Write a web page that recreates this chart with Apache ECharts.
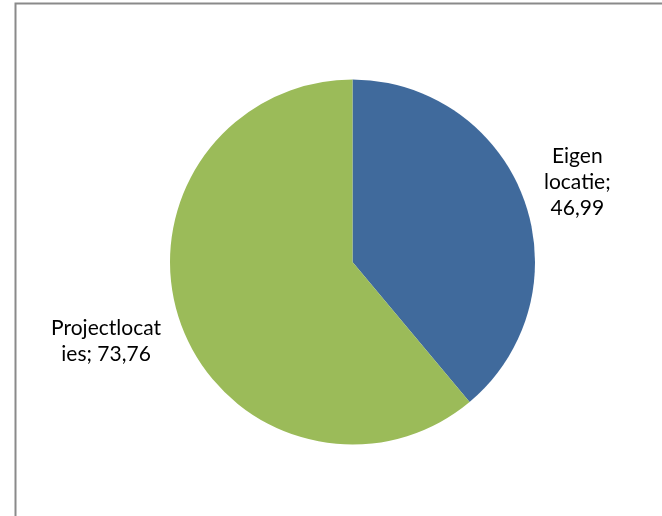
<!DOCTYPE html>
<html>
<head>
<meta charset="utf-8">
<script src="https://cdn.jsdelivr.net/npm/echarts@6/dist/echarts.min.js"></script>
<style>
html,body{margin:0;padding:0;background:#fff;}
#chart{width:662px;height:516px;}
</style>
</head>
<body>
<div id="chart"></div>
<script>
const categories = ['Eigen locatie', 'Projectlocaties'];
const values = [46.99, 73.76];
const labelTexts = ['Eigen\nlocatie;\n46,99', 'Projectlocat\nies; 73,76'];
const colors = ['#406A9C', '#9BBB59'];

const chart = echarts.init(document.getElementById('chart'), null, {renderer: 'canvas'});
chart.setOption({
  animation: false,
  backgroundColor: '#ffffff',
  graphic: [{
    type: 'rect',
    shape: {x: 15.5, y: 3.5, width: 700, height: 600},
    style: {fill: 'none', stroke: '#8a8a8a', lineWidth: 2},
    silent: true
  }],
  series: [{
    type: 'pie',
    center: [352.5, 262],
    radius: 182.5,
    startAngle: 90,
    clockwise: true,
    data: categories.map((c, i) => ({
      name: c, value: values[i],
      itemStyle: {color: colors[i]},
      label: {formatter: labelTexts[i]}
    })),
    label: {
      show: true,
      position: 'outside',
      fontFamily: 'Lato',
      fontSize: 21,
      lineHeight: 26,
      color: '#000'
    },
    labelLine: {show: false, length: 51, length2: -33},
    labelLayout: function (p) {
      const r = p.labelRect;
      return {x: r.x + r.width / 2, y: r.y + r.height / 2, align: 'center', verticalAlign: 'middle'};
    }
  }]
});
</script>
</body>
</html>
